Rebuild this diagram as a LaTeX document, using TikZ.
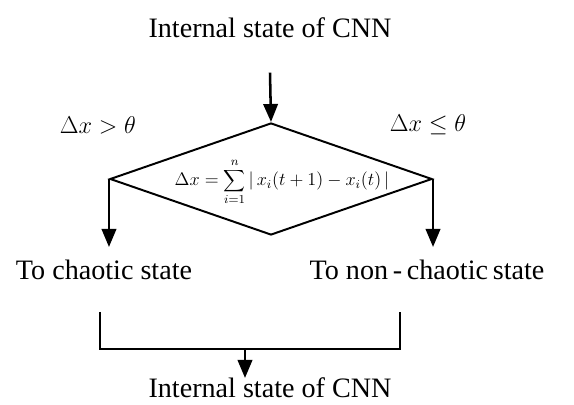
\documentclass[tikz,border=0pt]{standalone}
\usepackage{fontspec}
\setmainfont{Liberation Serif}
\usepackage{graphicx}
\usepackage{tikz}
\usetikzlibrary{arrows.meta, positioning, shapes.geometric}

\begin{document}
\begin{tikzpicture}[x=0.025cm, y=-0.025cm,
    every node/.style={font=\fontsize{20}{24}\selectfont, inner sep=1pt},
    flow/.style={line width=1.8pt, -{Triangle[length=0.45cm, width=0.36cm]}},
    cond/.style={font=\fontsize{17}{20}\selectfont}]
        \useasboundingbox (0,0) rectangle (574,405);
        \node (top) at (270,28) {Internal state of CNN};
        \node[draw, diamond, line width=1.4pt, minimum width=8.05cm,
              minimum height=2.8cm, inner sep=0pt]
          (dec) at (271,179) {};
        \node[font=\fontsize{12}{14}\selectfont] (sum) at (282,182)
          {\scalebox{1.08}{$\displaystyle \Delta x = \sum_{i=1}^{n} | \, x_i(t+1) - x_i(t) \, |$}};
        \node[cond] (gt) at (98,125) {$\Delta x > \theta$};
        \node[cond] (le) at (428,125) {$\Delta x \leq \theta$};
        \node (chaos) at (104,270) {To chaotic state};
        \node (nonchaos) at (427,270) {To non\,-\,chaotic\,state};
        \node (bottom) at (270,388) {Internal state of CNN};
        \coordinate (bl) at (100,312);
        \coordinate (br) at (400,312);
        \coordinate (mid) at (245,349);
        \draw[flow] ([yshift=-0.82cm]top.south) -- (dec.north);
        \draw[flow] (dec.west) -- ++(0,68);
        \draw[flow] (dec.east) -- ++(0,68);
        \draw[line width=1.1pt] (bl) -- ++(0,37) -| (br);
        \draw[flow] (mid) -- ++(0,29);
      \end{tikzpicture}
\end{document}
